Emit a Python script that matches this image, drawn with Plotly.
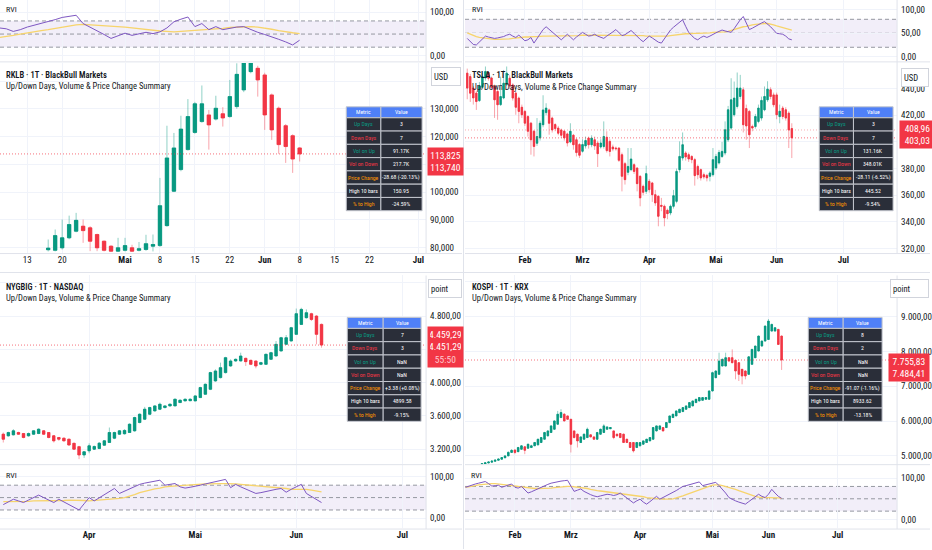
import plotly.graph_objects as go

W, H = 932, 550


def fx(x):
    return x / W


def fy(y):
    return 1 - y / H


UP = "#089981"
DOWN = "#f23645"
UP_WICK = "rgba(8,153,129,0.45)"
DOWN_WICK = "rgba(242,54,69,0.45)"
RVI_COLOR = "#7e57c2"
SIG_COLOR = "#f7d46b"
GRID = "#f0f3fa"
TXT = "#131722"
FONT = "Liberation Sans Narrow, Roboto Condensed, Roboto"

# ---------------- RKLB (top left) ----------------
rklb_start = 0
rklb_open = [79.2, 79.0, 79.9, 83.5, 85.9, 87.7, 87.1, 84.7, 82.3, 80.5,
             78.7, 79.0, 79.9, 79.0, 79.3, 80.5, 80.7, 87.9, 100.3, 108.1,
             115.3, 121.5, 125.4, 127.8, 126.3, 128.2, 127.2, 130.8, 136.8, 143.4,
             144.6, 142.2, 135.0, 130.2, 123.9, 120.3, 115.9]
rklb_high = [82.9, 86.5, 90.1, 91.5, 92.5, 90.1, 87.7, 85.0, 82.5, 80.8,
             83.5, 83.5, 81.0, 82.0, 84.6, 84.7, 105.1, 123.9, 121.3, 127.5,
             133.5, 132.5, 138.4, 129.6, 134.7, 130.6, 140.4, 146.4, 150.95, 150.5,
             145.5, 143.0, 135.5, 130.8, 124.5, 120.8, 116.2]
rklb_low = [78.6, 78.6, 79.3, 83.0, 85.5, 81.7, 78.7, 78.7, 78.6, 78.5,
            78.5, 78.6, 78.5, 78.6, 78.8, 78.6, 80.3, 87.5, 100.0, 107.5,
            115.0, 121.0, 125.0, 115.3, 125.8, 123.6, 126.8, 130.0, 136.0, 142.8,
            134.4, 122.4, 118.8, 113.8, 110.5, 106.9, 111.0]
rklb_close = [79.8, 84.3, 83.5, 88.3, 89.8, 86.1, 82.3, 79.9, 79.0, 78.7,
              79.9, 80.7, 78.7, 79.6, 81.4, 81.1, 95.1, 112.3, 115.9, 122.7,
              127.2, 131.8, 131.8, 124.2, 130.2, 126.7, 134.4, 142.42, 148.5, 148.0,
              140.4, 127.8, 122.4, 117.1, 116.4, 111.9, 113.74]
rklb_rvi_start = -7
rklb_rvi = [64, 62, 56, 60, 66, 70, 74, 78, 83, 88, 90, 93, 74, 66, 58, 49, 40,
            46, 52, 47, 50, 54, 51, 55, 64, 78, 84, 89, 67, 74, 60, 67, 60, 63,
            66, 67, 60, 54, 49, 44, 38, 32, 25, 36]
rklb_sig = [42, 44, 47, 50, 53, 55, 58, 60, 63, 66, 69, 71, 72, 71, 70, 69, 69,
            68, 66, 64, 62, 61, 59, 57, 56, 55, 56, 57, 58, 59, 60, 61, 63, 65,
            66, 67, 67, 66, 64, 61, 58, 55, 53, 51]
rklb_xticks = [-3, 2, 11, 16, 21, 26, 31, 36, 41, 46, 53]
rklb_xlabels = ["13", "20", "<b>Mai</b>", "8", "15", "22", "<b>Jun</b>", "8", "15", "22", "<b>Jul</b>"]
rklb_yticks = [80, 90, 100, 110, 120, 130, 140]
rklb_ylabels = ["80,000", "90,000", "100,000", "", "120,000", "130,000", ""]
rklb_table = ["3", "7", "91.17K", "217.7K", "-28.68 (-20.13%)", "150.95", "-24.59%"]
rklb_price_tags = ["113,825", "113,740"]

# ---------------- TSLA (top right) ----------------
tsla_start = -19
tsla_open = [451.6, 449, 440.4, 436.6, 431, 441, 448, 452, 448, 442,
             437.8, 428, 433, 443, 447.8, 442.8, 436.6, 432.9, 426, 422.9,
             419, 414.1, 408, 399, 403, 412.9, 422, 424, 417.9, 413,
             410.4, 409, 408, 406, 400, 405, 401.6, 398, 393, 397,
             402.9, 397.9, 401.6, 399.2, 396.2, 396.6, 403.5, 400.4, 396.2, 395.4,
             395.4, 390.4, 383.7, 377.2, 379.2, 382.9, 380.4, 374.2, 366.7, 362.9,
             370.4, 369.2, 360.4, 359.2, 352.4, 351.7, 348.7, 346.7, 351.7, 355.4,
             379.2, 387.9, 391.7, 390.4, 389.1, 386.7, 381.6, 379.2, 375.4, 374.9,
             374.2, 375.4, 380.4, 384.2, 389.1, 391.7, 401.6, 410.4, 420.4, 426.6,
             434.1, 439.1, 425, 422.9, 411.6, 411.6, 415.4, 417.9, 424.1, 431.6,
             439.1, 435.3, 435.3, 419, 425.4, 424.1, 421.6, 410]
tsla_high = [455, 451, 442, 438, 445, 452, 456.6, 453, 449, 443,
             439, 449, 454, 456.6, 450, 444, 438, 434, 428, 424,
             420, 415, 409, 417.9, 416, 435, 429, 425, 419, 414,
             412, 410, 409, 407, 414, 406, 403, 399, 402, 404,
             404, 405, 404, 401, 402, 415.4, 408, 402, 398, 396.5,
             396, 392, 385, 395.4, 395.4, 384, 381, 375, 368, 382.2,
             372, 370, 364, 360, 358, 353, 350, 353, 364, 380,
             400.4, 407.1, 393, 392, 390, 388, 383, 380, 377, 376,
             378, 395.4, 391, 394, 400, 415.4, 427, 447.8, 445.3, 452.1,
             450.3, 441, 428, 424, 413, 421, 428, 434, 441.6, 445.52,
             441, 437, 437, 428, 427, 426, 423, 414]
tsla_low = [432, 430, 428, 424, 430, 440, 446, 446, 439, 418,
            416.6, 427, 432, 442, 440, 431, 420.4, 414, 418, 412,
            404, 390.4, 389.1, 397, 401, 411, 420, 405.4, 407, 408,
            405, 402.9, 401, 396.6, 399, 394.2, 389.1, 388, 392, 395,
            395, 396, 394, 381.2, 395, 395, 392, 389.1, 393, 393.5,
            385, 362.9, 368, 375, 378, 376, 362.9, 351.7, 360, 361,
            362, 355, 352, 336.7, 348, 336.7, 342, 345, 350, 354,
            377, 386, 386, 385, 384, 367.2, 372, 371, 372, 370.4,
            370.4, 374, 379, 383, 388, 390, 400, 409, 419, 425,
            432, 407.1, 401.6, 395.4, 408, 410, 414, 416, 423, 430,
            432, 426, 417, 414, 417, 416, 395.4, 387.9]
tsla_close = [440.4, 436.6, 433, 430.3, 442, 449, 452.8, 447.8, 441, 431.6,
              427.9, 434, 444, 451.6, 442, 432.9, 426, 422.9, 420.4, 414.1,
              408, 401.6, 396.6, 404, 414, 424, 425.4, 414, 409, 410,
              406.6, 405, 403, 399.2, 408, 397.9, 392, 390, 398, 401,
              397.9, 402.9, 397, 391.2, 399.2, 404.1, 393.5, 392.9, 394.7, 394.9,
              386.2, 374.2, 371.7, 381.6, 387.2, 377.9, 368.7, 358, 362.2, 376.2,
              364.2, 360.4, 354.2, 344.2, 351.7, 343, 346.2, 351.7, 359.7, 377.9,
              389.1, 397.9, 388.7, 387.2, 386.7, 374.7, 375.4, 373, 373.7, 373,
              376.7, 386.7, 389.1, 392.1, 392.9, 409.1, 424.1, 431.6, 432.9, 440.4,
              440.4, 412.9, 412, 405.4, 410.4, 419.1, 425.4, 431.14, 434.1, 439.6,
              434.1, 427.9, 420.4, 423, 419.1, 417.9, 408.96, 403.03]
tsla_rvi_start = -19
tsla_rvi = [39, 32, 26, 25, 32, 38, 44, 42, 41, 39, 40, 41, 43, 46, 48, 44, 41, 46, 40,
            34, 36, 41, 29, 38, 48, 58, 64, 58, 52, 46, 40, 36, 42, 48, 42, 36, 42, 48, 52,
            48, 44, 45, 48, 44, 41, 39, 44, 48, 53, 58, 52, 45, 47, 52, 56, 50, 43, 37, 32,
            38, 44, 40, 35, 31, 29, 38, 48, 57, 63, 68, 73, 79, 65, 52, 45, 39, 36, 41, 44,
            41, 44, 48, 51, 54, 57, 55, 53, 52, 60, 70, 79, 86, 72, 58, 61, 65, 69, 72, 75,
            70, 64, 57, 50, 49, 48, 44, 38, 36]
tsla_sig = [51, 48, 45, 43, 41, 40, 39, 38, 37, 37, 37, 37, 37, 38, 38, 39, 40, 40, 41,
            42, 42, 43, 43, 43, 44, 44, 44, 44, 44, 44, 45, 45, 45, 45, 45, 45, 45, 45, 46,
            46, 46, 46, 46, 46, 46, 46, 46, 46, 46, 46, 46, 46, 46, 46, 46, 45, 45, 45, 45,
            44, 44, 44, 44, 43, 43, 43, 44, 45, 46, 47, 48, 48, 49, 49, 50, 50, 50, 50, 51,
            51, 51, 52, 52, 52, 53, 53, 54, 56, 58, 60, 63, 64, 65, 67, 68, 69, 70, 70, 71,
            71, 70, 68, 66, 64, 62, 60, 58, 57]
tsla_xticks = [0, 19, 41, 63, 83, 105]
tsla_xlabels = ["<b>Feb</b>", "<b>Mrz</b>", "<b>Apr</b>", "<b>Mai</b>", "<b>Jun</b>", "<b>Jul</b>"]
tsla_yticks = [320, 340, 360, 380, 400, 420, 440]
tsla_ylabels = ["320,00", "340,00", "360,00", "380,00", "", "420,00", "440,00"]
tsla_table = ["3", "7", "131.16K", "348.01K", "-28.11 (-6.52%)", "445.52", "-9.54%"]
tsla_price_tags = ["408,96", "403,03"]

# ---------------- NYGBIG (bottom left) ----------------
nyg_start = -17
nyg_open = [3380, 3360, 3372, 3400, 3388, 3360, 3380, 3388, 3420, 3400,
            3360, 3340, 3332, 3320, 3270, 3230, 3130, 3180, 3200, 3208,
            3248, 3280, 3332, 3380, 3385, 3400, 3420, 3520, 3560, 3620,
            3660, 3680, 3700, 3720, 3720, 3760, 3780, 3782, 3780, 3820,
            3860, 3920, 4020, 4060, 4120, 4200, 4260, 4260, 4292, 4268,
            4260, 4220, 4220, 4280, 4320, 4380, 4460, 4500, 4580, 4700,
            4780, 4828, 4800, 4700]
nyg_high = [3400, 3410, 3440, 3410, 3395, 3400, 3425, 3450, 3430, 3405,
            3370, 3345, 3340, 3325, 3280, 3240, 3175, 3270, 3245, 3285,
            3310, 3460, 3410, 3430, 3440, 3510, 3590, 3630, 3708, 3710,
            3730, 3760, 3730, 3750, 3810, 3800, 3810, 3812, 3850, 3950,
            3990, 4130, 4160, 4240, 4310, 4280, 4290, 4360, 4300, 4275,
            4265, 4250, 4350, 4370, 4500, 4550, 4572, 4670, 4890, 4899.58,
            4880, 4840, 4810, 4710]
nyg_low = [3280, 3350, 3365, 3372, 3330, 3350, 3372, 3380, 3372, 3330,
           3280, 3300, 3290, 3240, 3190, 3080, 3095, 3150, 3190, 3200,
           3240, 3275, 3320, 3370, 3375, 3395, 3410, 3510, 3550, 3610,
           3650, 3670, 3690, 3710, 3715, 3755, 3775, 3778, 3775, 3815,
           3855, 3910, 4010, 4050, 4110, 4190, 4250, 4255, 4200, 4210,
           4172, 4210, 4215, 4275, 4315, 4375, 4455, 4495, 4575, 4695,
           4770, 4740, 4460, 4420]
nyg_close = [3320, 3400, 3420, 3380, 3340, 3388, 3420, 3440, 3380, 3340,
             3300, 3320, 3300, 3250, 3200, 3130, 3168, 3240, 3232, 3272,
             3300, 3400, 3400, 3420, 3425, 3500, 3580, 3620, 3680, 3700,
             3720, 3740, 3720, 3740, 3800, 3788, 3800, 3800, 3840, 3940,
             3980, 4120, 4140, 4180, 4300, 4260, 4280, 4320, 4252, 4220,
             4200, 4240, 4340, 4360, 4460, 4540, 4540, 4660, 4828, 4880,
             4840, 4760, 4580, 4451.29]
nyg_rvi_start = -17
nyg_rvi = [33, 40, 46, 42, 38, 44, 50, 56, 50, 44, 38, 46, 40, 33, 27, 20, 35,
           50, 42, 50, 58, 66, 72, 60, 66, 72, 78, 82, 85, 87, 90, 92, 80, 82, 84, 76, 73,
           75, 77, 80, 83, 86, 89, 92, 94, 74, 82, 76, 70, 65, 60, 62, 65, 68, 70, 72, 63,
           70, 76, 82, 60, 52, 45, 38]
nyg_sig = [40, 40, 41, 41, 41, 41, 42, 42, 42, 43, 43, 43, 43, 44, 44, 43, 43,
           42, 43, 44, 45, 45, 46, 48, 50, 53, 57, 62, 65, 69, 71, 73, 76, 77, 78, 79, 80,
           81, 82, 82, 83, 83, 84, 84, 84, 84, 83, 82, 81, 80, 79, 78, 76, 75, 74, 73, 72,
           70, 70, 70, 70, 68, 66, 64]
nyg_xticks = [0, 21, 41, 62]
nyg_xlabels = ["<b>Apr</b>", "<b>Mai</b>", "<b>Jun</b>", "<b>Jul</b>"]
nyg_yticks = [3200, 3600, 4000, 4400, 4800, 5200]
nyg_ylabels = ["3.200,00", "3.600,00", "4.000,00", "", "4.800,00", ""]
nyg_table = ["7", "3", "NaN", "NaN", "+3.38 (+0.08%)", "4899.58", "-9.15%"]
nyg_price_tags = ["4.459,29", "4.451,29", "55:50"]

# ---------------- KOSPI (bottom right) ----------------
kospi_start = -10
kospi_open = [4745, 4770, 4795, 4820, 4845, 4875, 4905, 4945, 5000, 5100,
              5170, 5120, 5190, 5260, 5221, 5240, 5290, 5317, 5384, 5479,
              5575, 5671, 5766, 5910, 6101, 6197, 6149, 6053, 5718, 5623,
              5384, 5479, 5527, 5604, 5546, 5479, 5623, 5671, 5766, 5780,
              5718, 5623, 5640, 5623, 5479, 5384, 5384, 5240, 5288, 5336,
              5384, 5431, 5479, 5718, 5766, 5814, 5814, 5957, 6101, 6149,
              6244, 6273, 6340, 6388, 6436, 6531, 6579, 6598, 6627, 6627,
              6866, 7248, 7344, 7583, 7583, 7822, 7822, 7746, 7679, 7488,
              7440, 7344, 7631, 7822, 8014, 8157, 8300, 8348, 8587, 8587,
              8635, 8444]
kospi_high = [4790, 4810, 4840, 4870, 4895, 4925, 4965, 5020, 5130, 5190,
              5180, 5260, 5300, 5270, 5350, 5320, 5400, 5490, 5540, 5690,
              5730, 5880, 6020, 6292, 6340, 6230, 6160, 6060, 5730, 5640,
              5560, 5640, 5814, 5615, 5560, 5690, 5780, 5910, 5845, 5830,
              5730, 5640, 5650, 5640, 5490, 5395, 5395, 5400, 5395, 5445,
              5490, 5540, 5830, 5875, 5880, 5830, 5970, 6160, 6210, 6305,
              6355, 6400, 6450, 6545, 6590, 6640, 6690, 6690, 6685, 6880,
              7420, 7460, 7966, 7800, 7966, 7840, 8061, 7760, 7690, 7500,
              7460, 7860, 8075, 8170, 8460, 8320, 8750, 8933.62, 8800, 8700,
              8650, 8460]
kospi_low = [4735, 4760, 4785, 4810, 4835, 4865, 4895, 4935, 4990, 5090,
             5049, 5110, 5180, 5049, 5200, 5230, 5280, 5300, 5370, 5470,
             5560, 5660, 5750, 5900, 6090, 5990, 6040, 5097, 5500, 5240,
             5370, 5470, 5510, 5530, 5470, 5470, 5610, 5660, 5755, 5770,
             5479, 5560, 5510, 5370, 5370, 5230, 5097, 5230, 5280, 5320,
             5370, 5420, 5470, 5700, 5750, 5700, 5800, 5940, 6090, 6140,
             6230, 6260, 6330, 6375, 6425, 6520, 6565, 6590, 6615, 6615,
             6850, 7230, 7330, 7570, 7570, 7700, 7660, 7201, 7153, 7057,
             7200, 7330, 7620, 7810, 8000, 8140, 8290, 8335, 8575, 8575,
             8190, 7470]
kospi_close = [4775, 4800, 4825, 4850, 4880, 4910, 4950, 5000, 5100, 5160,
               5097, 5240, 5288, 5160, 5336, 5288, 5384, 5479, 5527, 5671,
               5718, 5862, 6005, 6197, 6244, 6005, 6053, 5336, 5527, 5431,
               5546, 5623, 5766, 5546, 5479, 5671, 5766, 5862, 5833, 5814,
               5527, 5575, 5527, 5384, 5384, 5240, 5145, 5384, 5384, 5431,
               5479, 5527, 5814, 5862, 5862, 5718, 5957, 6149, 6197, 6292,
               6340, 6388, 6436, 6531, 6579, 6627, 6675, 6675, 6675, 6866,
               7392, 7440, 7727, 7774, 7822, 7727, 7679, 7440, 7344, 7296,
               7296, 7846.9, 8061, 8157, 8444, 8300, 8731, 8874, 8779, 8683,
               8205, 7755.83]
kospi_rvi_start = -15
kospi_rvi = [78, 81, 83, 86, 88, 90, 92, 87, 81, 82, 83, 78, 81, 84, 86,
             78, 76, 80, 72, 64, 67, 71, 74, 77, 81, 85, 88, 90, 91, 93, 94, 95, 81, 68, 71,
             74, 68, 63, 60, 57, 55, 57, 59, 61, 60, 58, 60, 64, 58, 52, 46, 40, 45, 49, 42,
             37, 43, 50, 56, 49, 53, 58, 62, 65, 70, 75, 80, 82, 84, 87, 89, 91, 82, 84, 86,
             88, 90, 82, 74, 64, 53, 48, 45, 42, 39, 37, 43, 49, 55, 61, 56, 53, 61, 73, 64,
             56, 51]
kospi_sig = [78, 79, 81, 82, 84, 85, 86, 87, 87, 87, 86, 85, 84, 83, 82,
             81, 80, 79, 78, 77, 75, 75, 75, 75, 75, 75, 76, 77, 78, 79, 79, 80, 80, 79, 78,
             78, 76, 75, 73, 71, 70, 69, 68, 67, 66, 65, 64, 63, 62, 61, 60, 59, 57, 56, 55,
             53, 52, 51, 50, 50, 49, 49, 49, 50, 52, 54, 57, 60, 63, 66, 69, 72, 75, 78, 81,
             83, 84, 84, 82, 80, 78, 76, 73, 70, 67, 65, 62, 59, 56, 54, 53, 53, 53, 53, 53,
             52, 51]
kospi_xticks = [0, 17, 38, 60, 77, 98]
kospi_xlabels = ["<b>Feb</b>", "<b>Mrz</b>", "<b>Apr</b>", "<b>Mai</b>", "<b>Jun</b>", "<b>Jul</b>"]
kospi_yticks = [5000, 6000, 7000, 8000, 9000, 10000]
kospi_ylabels = ["5.000,00", "6.000,00", "7.000,00", "8.000,00", "9.000,00", ""]
kospi_table = ["8", "2", "NaN", "NaN", "-91.07 (-1.16%)", "8933.62", "-13.18%"]
kospi_price_tags = ["7.755,83", "7.484,41"]

metrics = ["Up Days", "Down Days", "Vol on Up", "Vol on Down", "Price Change", "High 10 bars", "% to High"]
metric_colors = [UP, DOWN, UP, DOWN, "#ff9800", "#ffffff", "#ff9800"]

fig = go.Figure()


def add_candles(o, h, l, c, start, xa, ya):
    xs = list(range(start, start + len(c)))
    top = [max(a, b) for a, b in zip(o, c)]
    bot = [min(a, b) for a, b in zip(o, c)]
    # light wicks
    fig.add_trace(go.Candlestick(
        x=xs, open=o, high=h, low=l, close=c, xaxis=xa, yaxis=ya,
        increasing=dict(line=dict(color=UP_WICK, width=1), fillcolor=UP),
        decreasing=dict(line=dict(color=DOWN_WICK, width=1), fillcolor=DOWN),
        hoverinfo="skip", showlegend=False))
    # solid bodies on top
    fig.add_trace(go.Candlestick(
        x=xs, open=o, high=top, low=bot, close=c, xaxis=xa, yaxis=ya,
        increasing=dict(line=dict(color=UP, width=0.5), fillcolor=UP),
        decreasing=dict(line=dict(color=DOWN, width=0.5), fillcolor=DOWN),
        hoverinfo="skip", showlegend=False))


def add_rvi(rvi, sig, start, xa, ya):
    xs = list(range(start, start + len(rvi)))
    fig.add_trace(go.Scatter(x=xs, y=sig, mode="lines", line=dict(color=SIG_COLOR, width=1.3),
                             xaxis=xa, yaxis=ya, hoverinfo="skip", showlegend=False))
    fig.add_trace(go.Scatter(x=xs, y=rvi, mode="lines", line=dict(color=RVI_COLOR, width=1),
                             xaxis=xa, yaxis=ya, hoverinfo="skip", showlegend=False))


add_candles(rklb_open, rklb_high, rklb_low, rklb_close, rklb_start, "x", "y")
add_rvi(rklb_rvi, rklb_sig, rklb_rvi_start, "x2", "y2")
add_candles(tsla_open, tsla_high, tsla_low, tsla_close, tsla_start, "x3", "y3")
add_rvi(tsla_rvi, tsla_sig, tsla_rvi_start, "x4", "y4")
add_candles(nyg_open, nyg_high, nyg_low, nyg_close, nyg_start, "x5", "y5")
add_rvi(nyg_rvi, nyg_sig, nyg_rvi_start, "x6", "y6")
add_candles(kospi_open, kospi_high, kospi_low, kospi_close, kospi_start, "x7", "y7")
add_rvi(kospi_rvi, kospi_sig, kospi_rvi_start, "x8", "y8")

tick_font = dict(family=FONT, size=9, color=TXT)


def xaxis(x0, x1, rng, tickvals, ticktext, anchor, labels, match=None):
    ax = dict(domain=[fx(x0), fx(x1)], range=rng, anchor=anchor, tickvals=tickvals,
              ticktext=ticktext, showticklabels=labels, showgrid=True, gridcolor=GRID,
              zeroline=False, showline=False, ticks="", tickfont=tick_font,
              rangeslider=dict(visible=False), fixedrange=True)
    if match:
        ax["matches"] = match
    return ax


def yaxis(y0, y1, rng, tickvals, ticktext, anchor):
    return dict(domain=[fy(y1), fy(y0)], range=rng, anchor=anchor, side="right",
                tickvals=tickvals, ticktext=ticktext, showgrid=True, gridcolor=GRID,
                zeroline=False, showline=False, ticks="", tickfont=tick_font,
                ticklabelstandoff=3, fixedrange=True)


LX0, LX1, RX0, RX1 = 0, 427, 466, 899

fig.update_layout(
    width=W, height=H, margin=dict(l=0, r=0, t=0, b=0),
    paper_bgcolor="white", plot_bgcolor="white", separators=",.",
    font=dict(family=FONT, color=TXT), showlegend=False,
    xaxis=xaxis(LX0, LX1, [-6.9, 54.1], rklb_xticks, rklb_xlabels, "y", True),
    yaxis=yaxis(63, 253, [78.2, 146.55], rklb_yticks, rklb_ylabels, "x"),
    xaxis2=xaxis(LX0, LX1, [-6.9, 54.1], rklb_xticks, rklb_xlabels, "y2", False, "x"),
    yaxis2=yaxis(0, 61, [-11.4, 127.9], [0, 100], ["0,00", "100,00"], "x2"),
    xaxis3=xaxis(RX0, RX1, [-19.74, 122.7], tsla_xticks, tsla_xlabels, "y3", True),
    yaxis3=yaxis(63, 253, [317.0, 459.3], tsla_yticks, tsla_ylabels, "x3"),
    xaxis4=xaxis(RX0, RX1, [-19.74, 122.7], tsla_xticks, tsla_xlabels, "y4", False, "x3"),
    yaxis4=yaxis(0, 61, [-9.2, 121.4], [0, 50, 100], ["0,00", "50,00", "100,00"], "x4"),
    xaxis5=xaxis(LX0, LX1, [-17.65, 66.7], nyg_xticks, nyg_xlabels, "y5", False),
    yaxis5=yaxis(276, 465, [3019.6, 5287.6], nyg_yticks, nyg_ylabels, "x5"),
    xaxis6=xaxis(LX0, LX1, [-17.65, 66.7], nyg_xticks, nyg_xlabels, "y6", True, "x5"),
    yaxis6=yaxis(466, 529, [-23.7, 128.5], [0, 100], ["0,00", "100,00"], "x6"),
    xaxis7=xaxis(RX0, RX1, [-15.15, 116.06], kospi_xticks, kospi_xlabels, "y7", False),
    yaxis7=yaxis(276, 465, [4762, 10185], kospi_yticks, kospi_ylabels, "x7"),
    xaxis8=xaxis(RX0, RX1, [-15.15, 116.06], kospi_xticks, kospi_xlabels, "y8", True, "x7"),
    yaxis8=yaxis(466, 529, [-21.1, 131.8], [0, 100], ["0,00", "100,00"], "x8"),
)

shapes = []
ann = []

# RVI bands and levels
for xa, ya in [("x2", "y2"), ("x4", "y4"), ("x6", "y6"), ("x8", "y8")]:
    shapes.append(dict(type="rect", xref=xa + " domain", yref=ya, x0=0, x1=1, y0=20, y1=80,
                       fillcolor="rgba(126,87,194,0.10)", line=dict(width=0), layer="below"))
    for lvl in (20, 50, 80):
        shapes.append(dict(type="line", xref=xa + " domain", yref=ya, x0=0, x1=1, y0=lvl, y1=lvl,
                           line=dict(color="#9598a1", width=1, dash="4px,3px"), layer="below"))

# last price lines
for ya, xa, val, col in [("y", "x", rklb_close[-1], "rgba(242,54,69,0.7)"),
                         ("y3", "x3", tsla_close[-2], "rgba(242,54,69,0.4)"),
                         ("y3", "x3", tsla_close[-1], "rgba(242,54,69,0.7)"),
                         ("y5", "x5", nyg_close[-1], "rgba(242,54,69,0.7)"),
                         ("y7", "x7", kospi_close[-1], "rgba(242,54,69,0.7)")]:
    shapes.append(dict(type="line", xref=xa + " domain", yref=ya, x0=0, x1=1, y0=val, y1=val,
                       line=dict(color=col, width=1, dash="1px,2px")))

# pane separators
SEP = "#e0e3eb"
for x0, x1, y in [(0, 463, 62), (466, 932, 62), (0, 463, 254), (466, 932, 254),
                  (0, 932, 273), (0, 463, 465.5), (466, 932, 465.5), (0, 463, 530), (466, 932, 530)]:
    shapes.append(dict(type="line", xref="paper", yref="paper", x0=fx(x0), x1=fx(x1),
                       y0=fy(y), y1=fy(y), line=dict(color=SEP, width=1)))
for x, y0, y1 in [(464.5, 0, 550), (427, 0, 254), (899, 0, 254), (427, 276, 530), (899, 276, 530)]:
    shapes.append(dict(type="line", xref="paper", yref="paper", x0=fx(x), x1=fx(x),
                       y0=fy(y0), y1=fy(y1), line=dict(color=SEP, width=1)))


def add_table(values, x0, xm, x1, y0):
    # summary table drawn as cells: header row + 7 metric rows
    hh, rh = 11, 13.3
    rows = [("Metric", "Value", "#4f80f7", "white", "white")]
    for m, v, c in zip(metrics, values, metric_colors):
        rows.append((m, v, "#2a2e39", c, "#ffffff"))
    top = y0
    for i, (m, v, fill, c1, c2) in enumerate(rows):
        h = hh if i == 0 else rh
        for (a, b, txt, col) in [(x0, xm, m, c1), (xm, x1, v, c2)]:
            shapes.append(dict(type="rect", xref="paper", yref="paper", x0=fx(a), x1=fx(b),
                               y0=fy(top + h), y1=fy(top), fillcolor=fill,
                               line=dict(color="#c3c6ce", width=1)))
            ann.append(dict(text=txt, x=fx((a + b) / 2), y=fy(top + h / 2), xref="paper",
                            yref="paper", showarrow=False, xanchor="center", yanchor="middle",
                            font=dict(family=FONT, size=5.8, color=col)))
        top += h


add_table(rklb_table, 347, 381.7, 423, 107)
add_table(tsla_table, 821, 855.3, 895, 107)
add_table(nyg_table, 348, 384, 422, 318)
add_table(kospi_table, 810, 845, 884, 318)


def label(text, x, y, size=8.5, weight=None, color=TXT):
    f = dict(family=FONT, size=size, color=color)
    if weight:
        f["weight"] = weight
    ann.append(dict(text=text, x=fx(x), y=fy(y), xref="paper", yref="paper",
                    xanchor="left", yanchor="middle", showarrow=False, font=f))


def unit_box(text, x, y, w):
    ann.append(dict(text=text, x=fx(x), y=fy(y), xref="paper", yref="paper",
                    xanchor="left", yanchor="top", showarrow=False, width=w, height=13,
                    align="left", bgcolor="white", bordercolor="#d1d4dc", borderwidth=1,
                    borderpad=2, font=dict(family=FONT, size=8.5, color=TXT)))


def price_box(lines, x, y, w, extra=None):
    text = "<br>".join(lines)
    if extra:
        text += "<br><span style='color:#ffc9cf'>" + extra + "</span>"
    ann.append(dict(text=text, x=fx(x), y=fy(y), xref="paper", yref="paper",
                    xanchor="left", yanchor="top", showarrow=False, width=w,
                    align="center", bgcolor=DOWN, borderpad=2,
                    font=dict(family=FONT, size=9.5, color="white")))


label("RVI", 4, 10, 8)
label("RVI", 471, 10, 8)
label("RVI", 4, 476, 8)
label("RVI", 470, 476, 8)

label("RKLB · 1T · BlackBull Markets", 4, 75, 8.5, 600)
label("Up/Down Days, Volume & Price Change Summary", 4, 86.5, 8.5)
label("TSLA · 1T · BlackBull Markets", 471, 75.5, 8.5, 600)
label("Up/Down Days, Volume & Price Change Summary", 471, 87, 8.5)
label("NYGBIG · 1T · NASDAQ", 4, 288, 8.5, 600)
label("Up/Down Days, Volume & Price Change Summary", 4, 299, 8.5)
label("KOSPI · 1T · KRX", 471, 288, 8.5, 600)
label("Up/Down Days, Volume & Price Change Summary", 471, 299, 8.5)

unit_box("USD", 432, 67, 24)
unit_box("USD", 903, 68, 22)
unit_box("point", 429, 280, 28)
unit_box("point", 892, 280, 33)

price_box(rklb_price_tags, 428, 147, 31)
price_box(tsla_price_tags, 901, 120, 31)
price_box(nyg_price_tags[:2], 428, 327, 31, nyg_price_tags[2])
price_box(kospi_price_tags, 890, 354, 36)

fig.update_layout(shapes=shapes, annotations=ann)

fig.write_html("out.html", config={"displayModeBar": False},
               post_script="document.body.style.margin='0';")
